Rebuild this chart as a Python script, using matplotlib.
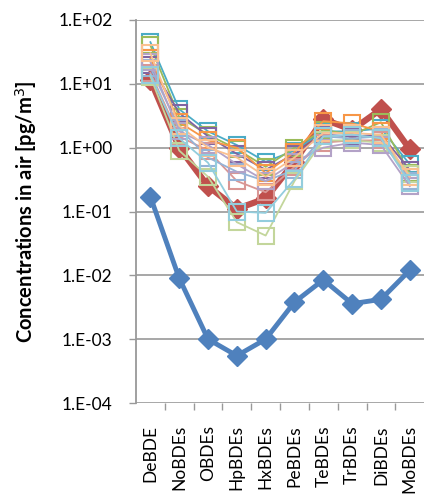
import numpy as np
import matplotlib
matplotlib.use('Agg')
import matplotlib.pyplot as plt

categories = ['DeBDE', 'NoBDEs', 'OBDEs', 'HpBDEs', 'HxBDEs',
              'PeBDEs', 'TeBDEs', 'TrBDEs', 'DiBDEs', 'MoBDEs']

# thick series
blue_vals = [0.17, 0.009, 0.001, 0.00055, 0.001, 0.0038, 0.0085, 0.0036, 0.0042, 0.012]
red_vals = [11.5, 1.0, 0.25, 0.11, 0.16, 0.6, 2.8, 1.9, 4.0, 0.95]

# thin series with open squares
thin_series = {
    '#4BACC6': [45, 4.0, 1.8, 1.1, 0.6, 0.9, 1.8, 1.8, 2.0, 0.55],
    '#9BBB59': [40, 3.0, 1.6, 0.95, 0.5, 1.0, 1.9, 1.6, 2.5, 0.4],
    '#8064A2': [20, 3.5, 1.5, 0.8, 0.45, 0.8, 1.6, 1.5, 1.6, 0.45],
    '#F79646': [25, 2.5, 1.3, 1.0, 0.4, 0.85, 2.6, 2.4, 1.8, 0.3],
    '#D99694': [15, 1.5, 0.9, 0.3, 0.2, 0.5, 1.2, 1.3, 1.3, 0.35],
    '#95B3D7': [18, 2.0, 0.7, 0.42, 0.3, 0.45, 1.5, 1.4, 1.5, 0.3],
    '#C3D69B': [13, 0.9, 0.35, 0.068, 0.042, 0.3, 1.3, 1.3, 1.2, 0.38],
    '#B3A2C7': [22, 1.8, 1.1, 0.55, 0.3, 0.6, 1.0, 1.2, 1.1, 0.25],
    '#FAC090': [30, 2.2, 1.0, 0.7, 0.35, 0.7, 1.7, 1.7, 1.6, 0.35],
    '#93CDDD': [14, 1.4, 0.58, 0.1, 0.095, 0.32, 1.5, 1.6, 1.4, 0.28],
}

plt.rcParams['font.family'] = ['Lato', 'DejaVu Sans']

fig = plt.figure(figsize=(4.25, 5), dpi=100)
ax = fig.add_axes([0.32, 0.194, 0.678, 0.766])

x = np.arange(len(categories))

ax.plot(x, red_vals, color='#C0504D', lw=4.5, marker='D', ms=10,
        mec='#C0504D', zorder=2)
for col, vals in thin_series.items():
    ax.plot(x, vals, color=col, lw=1.3, marker='s', ms=11, mfc='none',
            mec=col, mew=1.5, zorder=3)
ax.plot(x, blue_vals, color='#4F81BD', lw=3.5, marker='D', ms=10,
        mec='#4F81BD', zorder=4)

ax.set_yscale('log')
ax.set_ylim(1e-4, 1e2)
ax.set_xlim(-0.5, len(categories) - 0.5)

yt = [1e-4, 1e-3, 1e-2, 1e-1, 1e0, 1e1, 1e2]
ax.set_yticks(yt)
ax.set_yticklabels(['1.E-04', '1.E-03', '1.E-02', '1.E-01', '1.E+00', '1.E+01', '1.E+02'],
                   fontsize=12.5)
ax.yaxis.set_minor_locator(matplotlib.ticker.NullLocator())
ax.tick_params(axis='y', length=5, width=1, color='#999999', pad=12)

ax.set_xticks(x)
ax.set_xticklabels(categories, rotation=90, fontsize=12.5)
ax.set_xticks(x[:-1] + 0.5, minor=True)
ax.tick_params(axis='x', which='major', length=0, pad=16)
ax.tick_params(axis='x', which='minor', length=5, width=1, color='#999999')

ax.grid(axis='y', color='#A0A0A0', lw=1.3)
ax.set_axisbelow(True)
for s in ['top', 'right', 'bottom']:
    ax.spines[s].set_visible(False)
ax.spines['left'].set_color('#999999')
ax.spines['left'].set_linewidth(1.3)

ax.set_ylabel('Concentrations in air [pg/m$^3$]', fontsize=14.5, fontweight='bold', labelpad=14)

fig.savefig('out.png', dpi=100)
